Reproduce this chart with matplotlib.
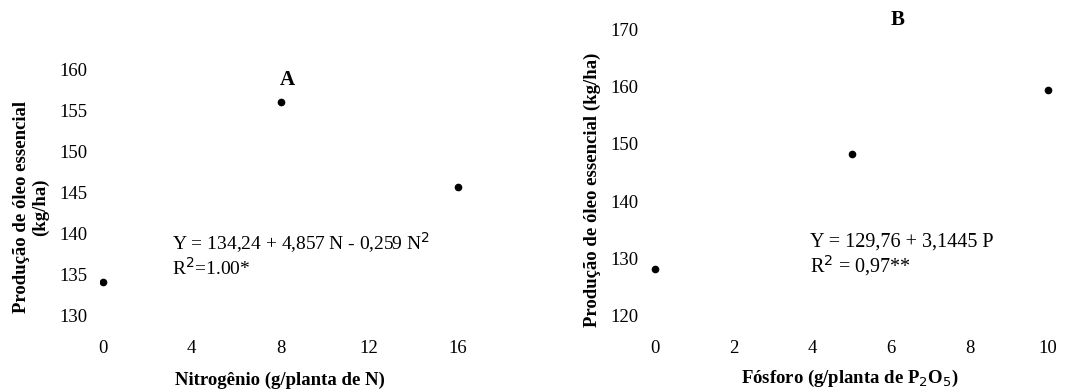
# Produção de óleo essencial vs. adubação (N e P2O5)
import numpy as np
import matplotlib
matplotlib.use("Agg")
import matplotlib.pyplot as plt

plt.rcParams['font.family'] = ['Liberation Serif', 'DejaVu Serif']

# dados painel A (nitrogênio)
n_dose = [0, 8, 16]
n_prod = [134.1, 156.1, 145.7]
n_xticks = [0, 4, 8, 12, 16]
n_yticks = [130, 135, 140, 145, 150, 155, 160]

# dados painel B (fósforo)
p_dose = [0, 5, 10]
p_prod = [128.1, 148.2, 159.5]
p_xticks = [0, 2, 4, 6, 8, 10]
p_yticks = [120, 130, 140, 150, 160, 170]

W, H = 1067, 390
fig = plt.figure(figsize=(W / 100, H / 100), dpi=100)

def px_axes(left, top, right, bottom):
    return fig.add_axes([left / W, 1 - bottom / H, (right - left) / W, (bottom - top) / H])

def limpar(ax):
    for s in ax.spines.values():
        s.set_visible(False)
    ax.tick_params(length=0, labelsize=13.5, pad=11)

# painel A
axA = px_axes(100, 60, 470, 325)
axA.plot(n_dose, n_prod, 'o', color='black', markersize=4.5)
axA.set_xlim(-0.135, 16.54)
axA.set_ylim(128.9, 161.2)
axA.set_xticks(n_xticks)
axA.set_yticks(n_yticks)
limpar(axA)
axA.tick_params(axis='y', pad=9)

fig.text(287 / W, 1 - 80 / H, 'A', fontsize=15, fontweight='bold', ha='center', va='center')
fig.text(172 / W, 1 - 243 / H, 'Y = 134,24 + 4,857 N - 0,259 N$^2$', fontsize=14, va='center')
fig.text(172 / W, 1 - 268 / H, 'R$^2$=1.00*', fontsize=14, va='center')
fig.text(31 / W, 1 - 207 / H, 'Produção de óleo essencial\n(kg/ha)', fontsize=13.5,
         fontweight='bold', rotation=90, ha='center', va='center', linespacing=1.15)
fig.text(280 / W, 1 - 380 / H, 'Nitrogênio (g/planta de N)', fontsize=13.5,
         fontweight='bold', ha='center', va='center')

# painel B
axB = px_axes(650, 20, 1058, 325)
axB.plot(p_dose, p_prod, 'o', color='black', markersize=4.5)
axB.set_xlim(-0.127, 10.25)
axB.set_ylim(118.25, 171.75)
axB.set_xticks(p_xticks)
axB.set_yticks(p_yticks)
limpar(axB)
axB.tick_params(axis='y', pad=8)

fig.text(898 / W, 1 - 20 / H, 'B', fontsize=15, fontweight='bold', ha='center', va='center')
fig.text(810 / W, 1 - 242 / H, 'Y = 129,76 + 3,1445 P', fontsize=14.5, va='center')
fig.text(810 / W, 1 - 266 / H, 'R$^2$ = 0,97**', fontsize=14.5, va='center')
fig.text(592 / W, 1 - 190 / H, 'Produção de óleo essencial (kg/ha)', fontsize=13.5,
         fontweight='bold', rotation=90, ha='center', va='center')
fig.text(850 / W, 1 - 378 / H, 'Fósforo (g/planta de P$_2$O$_5$)', fontsize=13.5,
         fontweight='bold', ha='center', va='center')

fig.savefig('out.png', dpi=100)
